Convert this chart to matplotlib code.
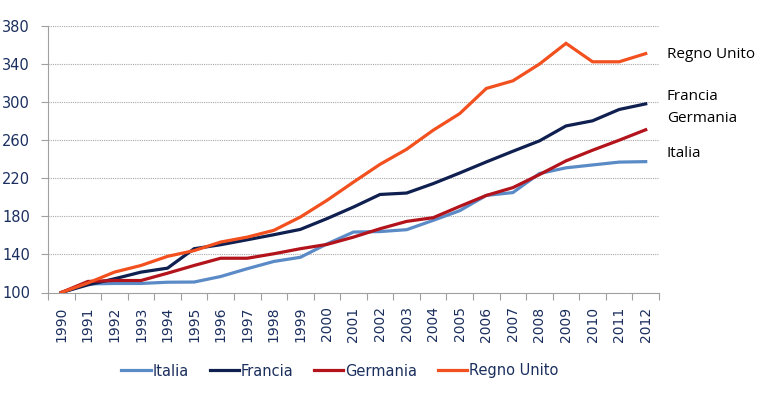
import matplotlib
matplotlib.use("Agg")
import matplotlib.pyplot as plt
from matplotlib.lines import Line2D

years = [str(y) for y in range(1990, 2013)]
italia = [100, 109, 109.5, 109.5, 110.8, 111, 116.8, 125, 132.6, 137, 151, 163.5, 164,
          166, 175.8, 186, 202, 205, 225, 231, 234, 237, 237.5]
francia = [100, 108, 114.4, 121.4, 125.6, 146, 150.2, 155.4, 160.7, 166.3, 177.6, 189.8, 203,
           204.5, 214.4, 225.6, 237.2, 248.4, 259.3, 275, 280.4, 292.3, 298.2]
germania = [100, 111.6, 112.6, 112.6, 120.3, 128.4, 136, 136, 140.7, 146, 150.5, 158.2, 167,
            174.7, 178.6, 190.5, 202, 210.2, 223.9, 238.3, 249.5, 260, 271]
regno_unito = [100, 110, 121.4, 128.4, 138, 144, 153, 158.2, 165.3, 179.3, 196.8, 216, 234.7,
               250.5, 270.5, 288, 314.4, 322.4, 340, 361.8, 342.4, 342.4, 351]
series_names = ["Italia", "Francia", "Germania", "Regno Unito"]
colors = ["#5b8bc6", "#0e1f50", "#b3141c", "#f2501e"]
yticks = [100, 140, 180, 220, 260, 300, 340, 380]
right_labels = ["Regno Unito", "Francia", "Germania", "Italia"]

navy = "#1b2f5e"
fig = plt.figure(figsize=(7.73, 3.97), dpi=100)
ax = fig.add_axes([48/773, 1-292.5/397, (659-48)/773, (292.5-26)/397])

x = list(range(len(years)))
data = [italia, francia, germania, regno_unito]
for vals, c, n in zip(data, colors, series_names):
    ax.plot(x, vals, color=c, lw=2.3, label=n, solid_joinstyle="miter", zorder=3)

ax.set_xlim(-0.5, len(years) - 0.5)
ax.set_ylim(100, 380)
ax.set_yticks(yticks)
ax.set_yticklabels([str(t) for t in yticks], fontsize=10.5, color=navy, family="DejaVu Sans")
ax.set_xticks(x)
ax.set_xticklabels(years, rotation=90, fontsize=10, color=navy, family="DejaVu Sans")
ax.tick_params(axis="x", length=0, pad=10)
ax.set_xticks([i - 0.5 for i in range(len(years) + 1)], minor=True)
ax.tick_params(axis="x", which="minor", length=5, color="#a0a0a0", width=0.8)
ax.tick_params(axis="y", length=5, color="#a0a0a0", width=0.8, pad=8)

for t in yticks[1:]:
    ax.axhline(t, color="#a8a8a8", lw=0.8, ls=(0, (1, 1)), zorder=1)

for s in ["top", "right"]:
    ax.spines[s].set_visible(False)
for s in ["left", "bottom"]:
    ax.spines[s].set_color("#a0a0a0")
    ax.spines[s].set_linewidth(0.8)

label_y = [55, 96, 119, 154]
for txt, yp in zip(right_labels, label_y):
    fig.text(667/773, 1 - yp/397, txt, fontsize=11, color="black", family="Open Sans",
             va="center", ha="left")

handles = [Line2D([0], [0], color=c, lw=2.3) for c in colors]
leg = fig.legend(handles, series_names, loc="center", bbox_to_anchor=(340/773, 1 - 371/397),
                 ncol=4, frameon=False, fontsize=10.5, handlelength=2.0, handletextpad=0.15,
                 columnspacing=1.4, prop={"family": "DejaVu Sans", "size": 10.5})
for t in leg.get_texts():
    t.set_color(navy)

fig.savefig("out.png", dpi=100)
